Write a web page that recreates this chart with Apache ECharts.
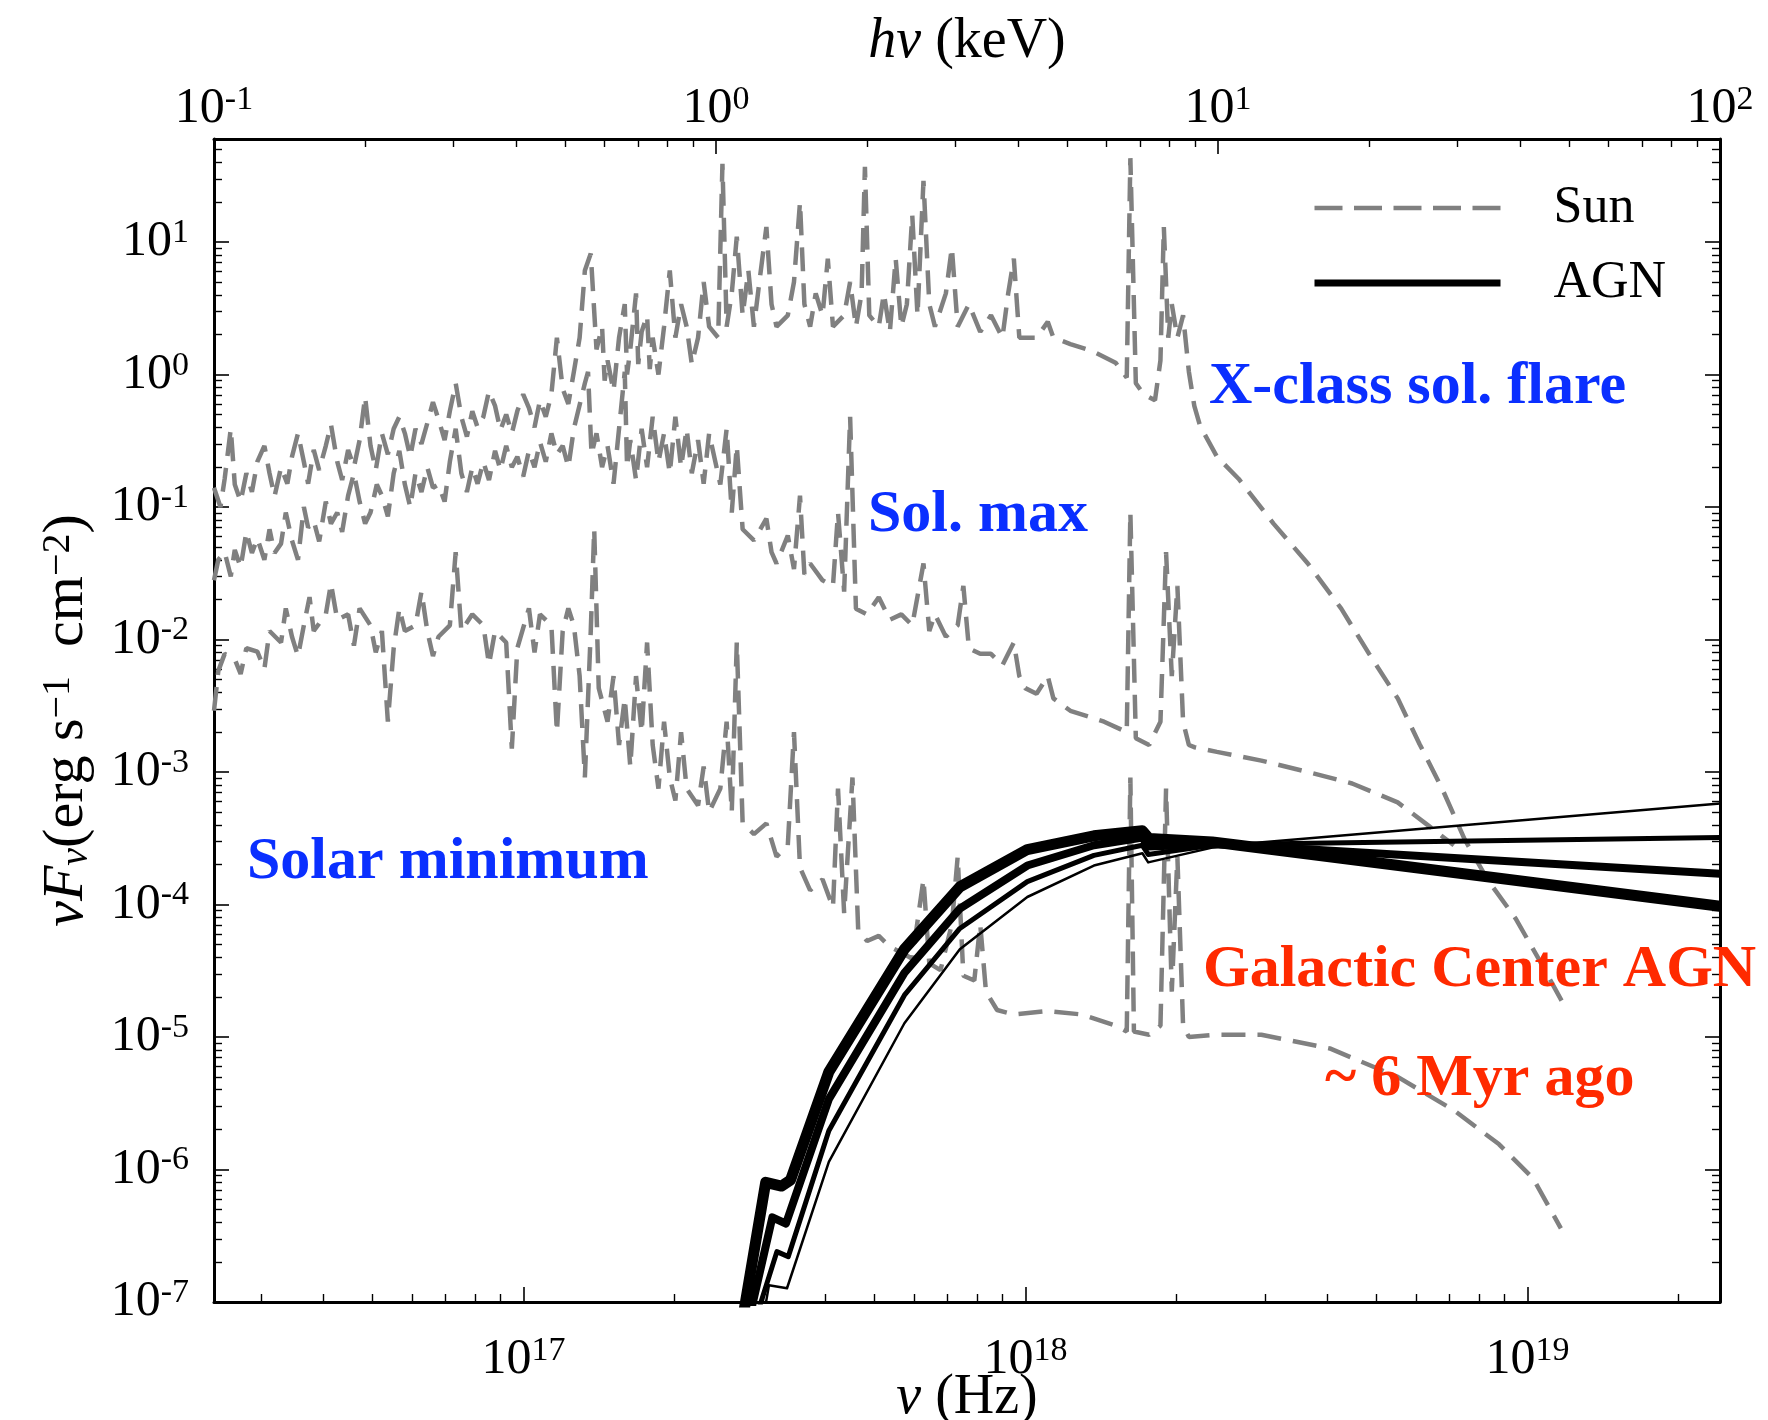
<!DOCTYPE html>
<html><head><meta charset="utf-8">
<script src="https://cdn.jsdelivr.net/npm/echarts@6/dist/echarts.min.js"></script>
<style>html,body{margin:0;padding:0;background:#fff}#c{width:1768px;height:1420px}</style>
</head><body><div id="c"></div>
<script>
// ---------------- data (photon energy in keV, nu F_nu in erg s^-1 cm^-2) ----------------
const KEV_TO_HZ = 2.418e17;

const hzMajor = [1e17, 1e18, 1e19];
const hzMinor = [3e16,4e16,5e16,6e16,7e16,8e16,9e16,2e17,3e17,4e17,5e17,6e17,7e17,8e17,9e17,2e18,3e18,4e18,5e18,6e18,7e18,8e18,9e18,2e19];
const kevMajor = [0.1, 1, 10, 100];
const kevMinor = [0.2,0.3,0.4,0.5,0.6,0.7,0.8,0.9,2,3,4,5,6,7,8,9,20,30,40,50,60,70,80,90];
const fMajor = [1e-7,1e-6,1e-5,1e-4,1e-3,1e-2,1e-1,1,10];
const fMinor = [2e-7,3e-7,4e-7,5e-7,6e-7,7e-7,8e-7,9e-7,2e-6,3e-6,4e-6,5e-6,6e-6,7e-6,8e-6,9e-6,
  2e-5,3e-5,4e-5,5e-5,6e-5,7e-5,8e-5,9e-5,2e-4,3e-4,4e-4,5e-4,6e-4,7e-4,8e-4,9e-4,
  2e-3,3e-3,4e-3,5e-3,6e-3,7e-3,8e-3,9e-3,0.02,0.03,0.04,0.05,0.06,0.07,0.08,0.09,
  0.2,0.3,0.4,0.5,0.6,0.7,0.8,0.9,2,3,4,5,6,7,8,9,20,30,40,50,60];

// X-class solar flare
const flareE = [0.100,0.103,0.105,0.108,0.110,0.113,0.116,0.119,0.122,0.126,0.129,0.132,0.136,0.140,0.143,0.147,0.151,0.154,0.158,0.162,
  0.167,0.171,0.176,0.180,0.185,0.190,0.195,0.200,0.205,0.210,0.216,0.222,0.228,0.234,0.240,0.246,0.252,0.259,0.266,0.273,
  0.280,0.288,0.295,0.303,0.311,0.319,0.327,0.335,0.344,0.353,0.363,0.372,0.382,0.392,0.402,0.413,0.424,0.435,0.446,0.458,
  0.470,0.482,0.495,0.508,0.521,0.535,0.548,0.563,0.578,0.593,0.600,0.608,0.625,0.641,0.658,0.665,0.675,0.693,0.700,0.711,
  0.729,0.738,0.748,0.768,0.788,0.809,0.830,0.852,0.874,0.895,0.921,0.945,0.969,1.01,1.03,1.05,1.075,1.10,1.13,1.16,
  1.19,1.22,1.26,1.29,1.32,1.39,1.43,1.47,1.50,1.54,1.58,1.63,1.67,1.71,1.80,1.85,1.90,1.95,1.98,2.02,
  2.11,2.16,2.22,2.28,2.34,2.40,2.46,2.52,2.59,2.66,2.73,2.87,2.95,3.03,3.19,3.36,3.53,3.72,3.82,3.92,
  4.02,4.35,4.58,4.70,5.08,5.63,6.25,6.58,6.69,6.86,7.11,7.49,7.68,7.80,7.96,8.09,8.30,8.52,8.75,8.97,
  9.21,9.95,11.0,12.9,15.1,17.6,20.0,22.8,25.2,28.0,31.0,34.4,39.2,43.5,49.5];
const flareF = [0.14,0.10,0.163,0.39,0.148,0.11,0.18,0.13,0.22,0.29,0.18,0.12,0.20,0.15,0.24,0.36,0.22,0.15,0.27,0.19,
  0.29,0.42,0.22,0.16,0.27,0.20,0.32,0.68,0.29,0.19,0.36,0.25,0.39,0.48,0.36,0.24,0.39,0.30,0.43,0.62,
  0.46,0.32,0.53,0.86,0.48,0.34,0.53,0.40,0.48,0.75,0.58,0.38,0.50,0.36,0.53,0.71,0.56,0.40,0.64,0.48,
  0.71,1.9,0.78,0.60,1.05,1.9,6.1,8.2,1.55,2.3,0.9,1.28,0.75,1.9,3.4,1.0,1.55,4.1,1.2,2.1,
  2.8,1.1,1.9,1.0,2.3,6.1,1.9,3.4,2.3,1.2,1.9,5.0,2.3,1.9,39,2.3,4.1,11,2.8,6.1,
  2.3,5.0,13,3.4,2.3,2.8,5.0,20,3.4,2.3,4.1,2.8,7.5,2.3,2.8,5.0,2.3,4.1,37,2.8,
  2.3,4.1,2.1,7.5,2.3,3.4,16,2.8,29,3.4,2.3,4.1,9.1,2.3,3.4,2.1,2.8,1.9,4.1,7.5,
  1.9,1.9,2.5,1.9,1.7,1.5,1.23,0.95,43,0.86,0.71,0.64,1.28,13,1.9,3.4,1.9,2.8,1.05,0.58,
  0.41,0.24,0.163,0.075,0.0375,0.0171,0.0078,0.0036,0.00163,0.00074,0.00031,0.000155,0.000078,0.000039,0.000016];

// Solar maximum
const solMaxE = [0.100,0.102,0.105,0.108,0.110,0.113,0.116,0.119,0.122,0.126,0.129,0.132,0.136,0.139,0.143,0.147,0.151,0.154,0.158,0.162,
  0.167,0.171,0.176,0.180,0.185,0.190,0.195,0.200,0.205,0.211,0.216,0.222,0.228,0.234,0.240,0.246,0.252,0.259,0.266,0.273,
  0.280,0.288,0.295,0.303,0.311,0.319,0.327,0.335,0.344,0.353,0.363,0.372,0.382,0.392,0.402,0.413,0.424,0.435,0.446,0.458,
  0.470,0.482,0.495,0.508,0.521,0.548,0.556,0.565,0.578,0.593,0.608,0.625,0.641,0.658,0.665,0.675,0.693,0.711,0.729,0.748,
  0.768,0.788,0.809,0.830,0.852,0.874,0.895,0.921,0.945,0.969,1.02,1.05,1.075,1.10,1.13,1.19,1.26,1.29,1.32,1.39,
  1.43,1.47,1.50,1.54,1.63,1.71,1.75,1.80,1.85,1.90,2.00,2.11,2.22,2.34,2.46,2.59,2.66,2.73,2.87,3.03,
  3.11,3.19,3.36,3.53,3.72,3.92,4.02,4.13,4.35,4.58,4.70,5.08,5.93,6.58,6.69,6.86,7.29,7.68,7.88,8.09,
  8.30,8.52,8.75,8.97,9.95,12.2,15.1,18.5,22.8,25.9,29.5];
const solMaxF = [0.028,0.040,0.0457,0.030,0.0475,0.035,0.065,0.045,0.058,0.040,0.068,0.045,0.053,0.091,0.056,0.040,0.10,0.07,0.079,0.055,
  0.11,0.075,0.091,0.065,0.122,0.18,0.11,0.075,0.091,0.148,0.122,0.085,0.18,0.266,0.148,0.10,0.18,0.13,0.20,0.14,
  0.148,0.11,0.22,0.39,0.18,0.13,0.20,0.15,0.22,0.16,0.266,0.19,0.29,0.20,0.24,0.17,0.266,0.20,0.31,0.22,
  0.36,0.25,0.29,0.20,0.39,0.86,1.05,0.25,0.36,0.20,0.29,0.15,0.39,1.05,0.20,0.32,0.16,0.39,0.20,0.48,
  0.22,0.36,0.18,0.48,0.20,0.39,0.18,0.32,0.15,0.36,0.148,0.39,0.091,0.29,0.068,0.056,0.082,0.0457,0.0375,0.061,
  0.034,0.122,0.031,0.0375,0.028,0.0254,0.091,0.023,0.48,0.0171,0.0155,0.0209,0.0141,0.0155,0.0128,0.0375,0.0116,0.0155,0.0105,0.0128,
  0.0254,0.0086,0.0078,0.0078,0.0064,0.0095,0.0053,0.0043,0.0039,0.0053,0.0036,0.0029,0.0024,0.0020,0.091,0.0018,0.0016,0.0024,0.0457,0.0053,
  0.0254,0.0024,0.0016,0.00154,0.00142,0.00122,0.0010,0.00082,0.00059,0.00041,0.00028];

// Solar minimum
const solMinE = [0.100,0.102,0.105,0.110,0.113,0.116,0.122,0.126,0.129,0.136,0.139,0.143,0.147,0.151,0.155,0.158,0.167,0.171,0.176,0.185,
  0.190,0.195,0.205,0.210,0.216,0.222,0.228,0.234,0.240,0.252,0.259,0.266,0.273,0.280,0.295,0.303,0.311,0.327,0.344,0.353,
  0.363,0.382,0.392,0.402,0.424,0.435,0.446,0.470,0.482,0.495,0.508,0.521,0.535,0.548,0.563,0.572,0.584,0.608,0.625,0.641,
  0.658,0.675,0.693,0.711,0.729,0.748,0.768,0.788,0.809,0.830,0.852,0.874,0.921,0.945,0.969,1.02,1.05,1.075,1.10,1.13,
  1.19,1.26,1.32,1.39,1.43,1.47,1.54,1.63,1.71,1.75,1.80,1.87,1.92,2.00,2.11,2.22,2.34,2.46,2.59,2.66,
  2.80,2.95,3.03,3.11,3.27,3.36,3.45,3.63,3.92,4.58,5.35,6.25,6.58,6.69,6.80,7.29,7.68,7.88,8.09,8.30,
  8.52,8.75,9.95,12.2,16.7,22.8,29.5,36.3,42.4,48.2];
const solMinF = [0.0029,0.0058,0.0078,0.0071,0.0055,0.0086,0.0081,0.0060,0.0116,0.0095,0.0172,0.0105,0.0075,0.0128,0.0209,0.0116,0.0155,0.0264,0.0141,0.0155,
  0.009,0.0172,0.0128,0.008,0.0116,0.0024,0.0086,0.0172,0.0116,0.0128,0.023,0.0116,0.0075,0.0105,0.0128,0.0457,0.0116,0.0155,0.0128,0.0065,
  0.0116,0.0095,0.0015,0.0086,0.0172,0.008,0.0155,0.0128,0.0020,0.0116,0.0172,0.0128,0.0053,0.00091,0.0116,0.068,0.0043,0.0024,0.0053,0.0016,
  0.0036,0.0011,0.0053,0.0020,0.0095,0.0016,0.00075,0.0024,0.00091,0.00061,0.0020,0.00075,0.00056,0.0011,0.00050,0.00075,0.0024,0.00050,0.0095,0.00041,
  0.00034,0.00041,0.00023,0.00028,0.0020,0.00019,0.000128,0.000155,0.000095,0.00075,0.000086,0.00091,0.000064,0.000053,0.000058,0.000048,0.0000435,0.000039,0.000155,0.000036,
  0.000032,0.000071,0.00023,0.000029,0.0000267,0.000071,0.000022,0.000016,0.0000148,0.0000157,0.0000148,0.0000122,0.000011,0.00091,0.000011,0.0000104,0.0000122,0.00075,0.000022,0.00023,
  0.0000122,0.000010,0.0000104,0.0000104,0.0000082,0.0000050,0.0000028,0.00000155,0.00000086,0.00000036];

// Galactic Center AGN (~6 Myr ago), four model spectra
const agnE_A = [1.23,1.275,1.385,1.678,2.373,3.06,4.17,5.66,7.07,7.26,9.74,11.0,100];
const agnF_A = [6.1e-8,1.34e-7,1.27e-7,1.14e-6,1.27e-5,4.6e-5,1.14e-4,1.97e-4,2.44e-4,2.08e-4,2.69e-4,2.85e-4,5.8e-4];
const agnE_B = [1.18,1.322,1.393,1.678,2.373,3.06,4.17,5.66,7.07,7.26,9.74,11.0,100];
const agnF_B = [6.1e-8,2.4e-7,2.2e-7,1.96e-6,2.07e-5,6.6e-5,1.49e-4,2.35e-4,2.8e-4,2.39e-4,2.8e-4,2.85e-4,3.2e-4];
const agnE_C = [1.15,1.295,1.378,1.678,2.373,3.06,4.17,5.66,7.07,7.26,9.74,11.0,100];
const agnF_C = [6.1e-8,4.35e-7,3.9e-7,3.4e-6,3.05e-5,9.3e-5,1.97e-4,2.8e-4,3.2e-4,2.74e-4,2.85e-4,2.8e-4,1.71e-4];
const agnE_D = [1.12,1.256,1.350,1.407,1.678,2.373,3.06,4.17,5.66,7.07,7.29,9.74,11.0,100];
const agnF_D = [6.1e-8,8.0e-7,7.5e-7,8.3e-7,5.45e-6,4.6e-5,1.36e-4,2.6e-4,3.3e-4,3.6e-4,3.15e-4,2.97e-4,2.8e-4,9.7e-5];

const legendNames = ['Sun', 'AGN'];
// ---------------------------------------------------------------------------------------

const FONT = '"Liberation Serif", "Times New Roman", serif';
const BLUE = '#0a2fff';
const RED = '#ff2a00';
const L = a => a.map(v => Math.log10(v));
const pts = (E, F) => E.map((e, i) => [Math.log10(e), Math.log10(F[i])]);
const fmt = v => '{b|10}{s|' + Math.round(v) + '}';
const tickRich = {
  b: {fontFamily: FONT, fontSize: 50, color: '#000', lineHeight: 52},
  s: {fontFamily: FONT, fontSize: 34, color: '#000', lineHeight: 34, verticalAlign: 'top'}
};
const nameRich = {
  i: {fontFamily: FONT, fontSize: 56, fontStyle: 'italic', color: '#000'},
  n: {fontFamily: FONT, fontSize: 56, color: '#000'},
  sub: {fontFamily: FONT, fontSize: 38, fontStyle: 'italic', color: '#000', verticalAlign: 'bottom'},
  sup: {fontFamily: FONT, fontSize: 38, color: '#000', verticalAlign: 'top'}
};
const yNameRich = {
  i: {fontFamily: FONT, fontSize: 58, fontStyle: 'italic', color: '#000'},
  n: {fontFamily: FONT, fontSize: 58, color: '#000'},
  sub: {fontFamily: FONT, fontSize: 40, fontStyle: 'italic', color: '#000', verticalAlign: 'bottom'},
  sup: {fontFamily: FONT, fontSize: 40, color: '#000', verticalAlign: 'top'}
};

const hzMin = Math.log10(0.1 * KEV_TO_HZ), hzMax = Math.log10(100 * KEV_TO_HZ);
const yMin = -7, yMax = Math.log10(60);

function majorAx(pos, min, max, ticks, labelOn, margin, extra) {
  return Object.assign({
    type: 'value', position: pos, min: min, max: max,
    axisLine: {show: true, onZero: false, lineStyle: {color: '#000', width: 3}},
    axisTick: {show: true, inside: true, length: 15, customValues: ticks, lineStyle: {color: '#000', width: 1.6}},
    axisLabel: {show: labelOn, margin: margin, customValues: ticks, formatter: fmt, rich: tickRich},
    splitLine: {show: false}
  }, extra || {});
}
function minorAx(pos, min, max, ticks) {
  return {
    type: 'value', position: pos, min: min, max: max,
    axisLine: {show: false, onZero: false},
    axisTick: {show: true, inside: true, length: 8, customValues: ticks, lineStyle: {color: '#000', width: 1.4}},
    axisLabel: {show: false},
    splitLine: {show: false}
  };
}

const sunLine = {color: '#808080', width: 4.5, type: [24, 12], cap: 'butt', join: 'bevel'};
function sunSeries(E, F) {
  return {name: 'Sun', type: 'line', xAxisIndex: 2, yAxisIndex: 0, data: pts(E, F), symbol: 'none',
    lineStyle: sunLine, itemStyle: {color: '#808080'}, silent: true, z: 2};
}
function agnSeries(E, F, w) {
  return {name: 'AGN', type: 'line', xAxisIndex: 2, yAxisIndex: 0, data: pts(E, F), symbol: 'none',
    lineStyle: {color: '#000', width: w, join: 'round', cap: 'butt'}, itemStyle: {color: '#000'}, silent: true, z: 3};
}

const chart = echarts.init(document.getElementById('c'), null, {renderer: 'canvas'});
chart.setOption({
  animation: false,
  backgroundColor: '#fff',
  grid: {left: 214, right: 48, top: 139, bottom: 118, containLabel: false, outerBoundsMode: 'none'},
  xAxis: [
    majorAx('bottom', hzMin, hzMax, L(hzMajor), true, 32, {
      name: '{i|ν}{n| (Hz)}', nameLocation: 'middle', nameGap: 68, nameMoveOverlap: false,
      nameTextStyle: {rich: nameRich}
    }),
    minorAx('bottom', hzMin, hzMax, L(hzMinor)),
    majorAx('top', -1, 2, L(kevMajor), true, 4, {
      name: '{i|hν}{n| (keV)}', nameLocation: 'middle', nameGap: 69, nameMoveOverlap: false,
      nameTextStyle: {rich: nameRich}
    }),
    minorAx('top', -1, 2, L(kevMinor))
  ],
  yAxis: [
    majorAx('left', yMin, yMax, L(fMajor), true, 25, {
      name: '{i|νF}{sub|ν}{n|(erg s}{sup|−1}{n|  cm}{sup|−2}{n|)}', nameLocation: 'middle', nameGap: 118,
      nameTextStyle: {rich: yNameRich}
    }),
    minorAx('left', yMin, yMax, L(fMinor)),
    majorAx('right', yMin, yMax, L(fMajor), false, 8),
    minorAx('right', yMin, yMax, L(fMinor))
  ],
  legend: {
    orient: 'vertical', left: 1311, top: 182, padding: 0,
    itemWidth: 186, itemHeight: 20, itemGap: 23, selectedMode: false,
    lineStyle: {width: 'inherit'},
    textStyle: {fontFamily: FONT, fontSize: 52, color: '#000', lineHeight: 20, padding: [0, 0, 0, 48]},
    data: [
      {name: legendNames[0], itemStyle: {opacity: 0}, lineStyle: {width: 4.5, type: [28, 11.5], color: '#808080'}},
      {name: legendNames[1], itemStyle: {opacity: 0}, lineStyle: {width: 7}}
    ]
  },
  series: [
    sunSeries(solMinE, solMinF),
    sunSeries(solMaxE, solMaxF),
    sunSeries(flareE, flareF),
    agnSeries(agnE_D, agnF_D, 11),
    agnSeries(agnE_C, agnF_C, 8),
    agnSeries(agnE_B, agnF_B, 5),
    agnSeries(agnE_A, agnF_A, 2.5)
  ],
  graphic: [
    {type: 'text', x: 1209, y: 387, z: 100, style: {text: 'X-class sol. flare', fill: BLUE, font: 'bold 60px ' + FONT, textAlign: 'left', textVerticalAlign: 'middle', align: 'left', verticalAlign: 'middle'}},
    {type: 'text', x: 868, y: 515, z: 100, style: {text: 'Sol. max', fill: BLUE, font: 'bold 60px ' + FONT, textAlign: 'left', textVerticalAlign: 'middle', align: 'left', verticalAlign: 'middle'}},
    {type: 'text', x: 247, y: 862, z: 100, style: {text: 'Solar minimum', fill: BLUE, font: 'bold 60px ' + FONT, textAlign: 'left', textVerticalAlign: 'middle', align: 'left', verticalAlign: 'middle'}},
    {type: 'text', x: 1203, y: 970, z: 100, style: {text: 'Galactic Center AGN', fill: RED, font: 'bold 60px ' + FONT, textAlign: 'left', textVerticalAlign: 'middle', align: 'left', verticalAlign: 'middle'}},
    {type: 'text', x: 1325, y: 1079, z: 100, style: {text: '~ 6 Myr ago', fill: RED, font: 'bold 60px ' + FONT, textAlign: 'left', textVerticalAlign: 'middle', align: 'left', verticalAlign: 'middle'}}
  ]
});
</script></body></html>
